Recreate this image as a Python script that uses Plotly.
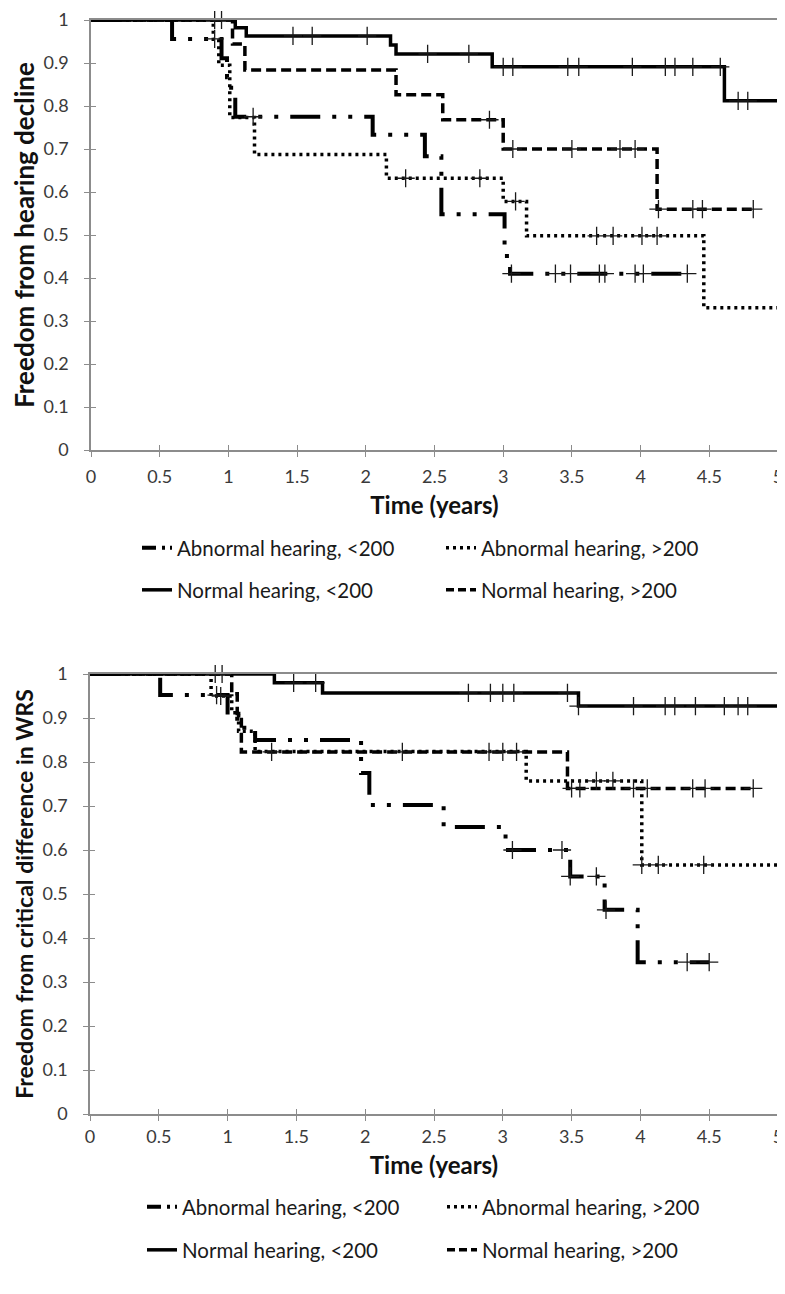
import numpy as np
import plotly.graph_objects as go

# The page body adds an 8px margin, so figure coordinates are offset by it.
OFF = 8
W, H = 785 - OFF, 1294 - 2 * OFF

# ---------------- Data: top chart (freedom from hearing decline) ----------------
top_ab_lt_t = [0, 0.59, 0.95, 0.99, 1.02, 1.05, 2.05, 2.43, 2.55, 3.01, 3.05, 4.34]
top_ab_lt_s = [1, 0.956, 0.911, 0.867, 0.822, 0.775, 0.733, 0.683, 0.548, 0.451, 0.41, 0.41]
top_ab_lt_c = [0.90, 1.18, 3.06, 3.38, 3.49, 3.70, 3.74, 3.96, 4.02, 4.34]

top_ab_gt_t = [0, 0.89, 0.93, 1.01, 1.19, 2.15, 3.0, 3.17, 4.46, 5.0]
top_ab_gt_s = [1, 0.955, 0.895, 0.773, 0.687, 0.632, 0.578, 0.498, 0.331, 0.331]
top_ab_gt_c = [2.29, 2.83, 3.09, 3.68, 3.80, 4.01, 4.12]

top_no_lt_t = [0, 1.05, 1.13, 2.18, 2.22, 2.92, 4.61, 5.0]
top_no_lt_s = [1, 0.982, 0.963, 0.942, 0.921, 0.891, 0.812, 0.812]
top_no_lt_c = [0.90, 0.95, 1.47, 1.61, 2.01, 2.45, 2.75, 3.0, 3.07, 3.47, 3.55,
               3.94, 4.18, 4.25, 4.38, 4.58, 4.71, 4.78]

top_no_gt_t = [0, 1.03, 1.12, 2.22, 2.56, 3.0, 4.12, 4.82]
top_no_gt_s = [1, 0.944, 0.884, 0.826, 0.768, 0.70, 0.56, 0.56]
top_no_gt_c = [2.90, 3.07, 3.50, 3.85, 3.96, 4.13, 4.38, 4.45, 4.82]

# ---------------- Data: bottom chart (freedom from critical difference in WRS) ----------------
bot_ab_lt_t = [0, 0.51, 1.0, 1.07, 1.2, 1.97, 2.03, 2.57, 3.02, 3.49, 3.74, 3.98, 4.5]
bot_ab_lt_s = [1, 0.952, 0.905, 0.878, 0.85, 0.775, 0.702, 0.652, 0.60, 0.54, 0.464, 0.345, 0.345]
bot_ab_lt_c = [0.92, 3.07, 3.43, 3.49, 3.68, 3.75, 4.34, 4.50]

bot_ab_gt_t = [0, 0.88, 1.03, 1.08, 1.2, 3.17, 4.01, 5.0]
bot_ab_gt_s = [1, 0.95, 0.912, 0.87, 0.824, 0.757, 0.566, 0.566]
bot_ab_gt_c = [0.95, 3.68, 3.80, 4.01, 4.13, 4.46]

bot_no_lt_t = [0, 1.34, 1.69, 3.55, 5.0]
bot_no_lt_s = [1, 0.98, 0.957, 0.927, 0.927]
bot_no_lt_c = [0.91, 0.96, 1.48, 1.64, 2.75, 2.91, 3.0, 3.08, 3.47, 3.55, 3.95,
               4.18, 4.25, 4.40, 4.61, 4.71, 4.78]

bot_no_gt_t = [0, 1.03, 1.07, 1.1, 3.47, 4.82]
bot_no_gt_s = [1, 0.955, 0.91, 0.823, 0.74, 0.74]
bot_no_gt_c = [1.32, 2.27, 2.90, 3.0, 3.10, 3.50, 3.56, 3.95, 4.05, 4.38, 4.47, 4.82]

names = ["Abnormal hearing, <200", "Abnormal hearing, >200",
         "Normal hearing, <200", "Normal hearing, >200"]
x_ticks = [0, 0.5, 1, 1.5, 2, 2.5, 3, 3.5, 4, 4.5, 5]
y_ticks = [0, 0.1, 0.2, 0.3, 0.4, 0.5, 0.6, 0.7, 0.8, 0.9, 1]

# line styles used in the plot area
plot_styles = [
    dict(dash="30px,12px,4px,12px,4px,12px", width=4),
    dict(dash="3px,4px", width=3.5),
    dict(dash="solid", width=3.5),
    dict(dash="10px,5px", width=3.5),
]
# shorter patterns so the (30px) legend swatches show the same look
legend_styles = [
    dict(dash="14px,6px,3px,5px,3px,6px", width=4),
    dict(dash="3px,4px", width=3.5),
    dict(dash="solid", width=3.5),
    dict(dash="8px,4px", width=3.5),
]


def fx(px):
    return (px - OFF) / W


def fy(py):
    return 1 - (py - OFF) / H


def step_at(t, s, c):
    t = np.asarray(t)
    s = np.asarray(s)
    idx = np.searchsorted(t, np.asarray(c), side="right") - 1
    return s[idx]


fig = go.Figure()

panels = [
    ("x", "y", ["legend", "legend2"],
     [(top_ab_lt_t, top_ab_lt_s, top_ab_lt_c), (top_ab_gt_t, top_ab_gt_s, top_ab_gt_c),
      (top_no_lt_t, top_no_lt_s, top_no_lt_c), (top_no_gt_t, top_no_gt_s, top_no_gt_c)]),
    ("x2", "y2", ["legend3", "legend4"],
     [(bot_ab_lt_t, bot_ab_lt_s, bot_ab_lt_c), (bot_ab_gt_t, bot_ab_gt_s, bot_ab_gt_c),
      (bot_no_lt_t, bot_no_lt_s, bot_no_lt_c), (bot_no_gt_t, bot_no_gt_s, bot_no_gt_c)]),
]

for xa, ya, legs, series in panels:
    for i, (t, s, c) in enumerate(series):
        fig.add_trace(go.Scatter(
            x=t, y=s, mode="lines", name=names[i], xaxis=xa, yaxis=ya, showlegend=False,
            line=dict(color="black", width=plot_styles[i]["width"], dash=plot_styles[i]["dash"],
                      shape="hv"),
            hoverinfo="skip"))
    for i, (t, s, c) in enumerate(series):
        fig.add_trace(go.Scatter(
            x=c, y=step_at(t, s, c), mode="markers", xaxis=xa, yaxis=ya, showlegend=False,
            marker=dict(symbol="cross-thin", size=13, color="#1a1a1a",
                        line=dict(color="#1a1a1a", width=1.3)),
            cliponaxis=False, hoverinfo="skip"))
    # legend entries
    for i in range(4):
        fig.add_trace(go.Scatter(
            x=[None], y=[None], mode="lines", name=names[i], xaxis=xa, yaxis=ya,
            line=dict(color="black", width=legend_styles[i]["width"], dash=legend_styles[i]["dash"]),
            legend=legs[0] if i < 2 else legs[1], showlegend=True, hoverinfo="skip"))

# empty traces so the overlay axes (inner half of the crossing tick marks) get drawn
for xa, ya in [("x3", "y3"), ("x4", "y4")]:
    fig.add_trace(go.Scatter(x=[None], y=[None], xaxis=xa, yaxis=ya, showlegend=False,
                             hoverinfo="skip"))

axis_col = "#8c8c8c"
tick_font = dict(family="Lato", size=18, color="#3a3a3a")


def xaxis(domain, anchor, label_gap, title_gap):
    return dict(domain=domain, anchor=anchor, range=[0, 5], tickvals=x_ticks,
                ticktext=[f"{v:g}" for v in x_ticks], ticklabeloverflow="allow",
                ticklabelstandoff=label_gap,
                showline=True, linecolor=axis_col, linewidth=1.6, mirror=True,
                ticks="outside", ticklen=5, tickcolor=axis_col, tickwidth=1.2,
                showgrid=False, zeroline=False, tickfont=tick_font,
                title=dict(text="Time (years)",
                           font=dict(family="Lato", size=24, color="#111111", weight="bold"),
                           standoff=title_gap),
                automargin=False, fixedrange=True)


def yaxis(domain, anchor, title, size):
    return dict(domain=domain, anchor=anchor, range=[0, 1], tickvals=y_ticks,
                ticktext=[f"{v:g}" for v in y_ticks], ticklabeloverflow="allow",
                showline=True, linecolor=axis_col, linewidth=1.6, mirror=True,
                ticks="outside", ticklen=5, tickcolor=axis_col, tickwidth=1.2,
                ticklabelstandoff=12,
                showgrid=False, zeroline=False, tickfont=tick_font,
                title=dict(text=title,
                           font=dict(family="Lato", size=size, color="#111111", weight="bold"),
                           standoff=2),
                automargin=False, fixedrange=True)


def inner_ticks_x(domain, anchor, overlay):
    return dict(domain=domain, anchor=anchor, overlaying=overlay, range=[0, 5], tickvals=x_ticks,
                showticklabels=False, showline=False, showgrid=False, zeroline=False,
                ticks="inside", ticklen=5, tickcolor=axis_col, tickwidth=1.2, fixedrange=True)


def inner_ticks_y(domain, anchor, overlay):
    return dict(domain=domain, anchor=anchor, overlaying=overlay, range=[0, 1], tickvals=y_ticks,
                showticklabels=False, showline=False, showgrid=False, zeroline=False,
                ticks="inside", ticklen=5, tickcolor=axis_col, tickwidth=1.2, fixedrange=True)


def legend(x_px, y_px, entry):
    return dict(orientation="h", x=x_px / W, xanchor="left", y=1 - y_px / H, yanchor="middle",
                entrywidth=entry, entrywidthmode="pixels", traceorder="normal",
                font=dict(family="Lato", size=20.5, color="#1a1a1a"),
                bgcolor="rgba(0,0,0,0)", borderwidth=0, itemclick=False, itemdoubleclick=False)


top_x = [fx(91), fx(778)]
top_y = [fy(450), fy(20)]
bot_x = [fx(90), fx(778)]
bot_y = [fy(1114), fy(674)]

fig.update_layout(
    width=W, height=H, margin=dict(l=0, r=0, t=0, b=0),
    paper_bgcolor="white", plot_bgcolor="white",
    xaxis=xaxis(top_x, "y", 5, 11),
    yaxis=yaxis(top_y, "x", "Freedom from hearing decline", 26),
    xaxis2=xaxis(bot_x, "y2", 1, 11),
    yaxis2=yaxis(bot_y, "x2", "Freedom from critical difference in WRS", 23),
    xaxis3=inner_ticks_x(top_x, "y3", "x"),
    yaxis3=inner_ticks_y(top_y, "x3", "y"),
    xaxis4=inner_ticks_x(bot_x, "y4", "x2"),
    yaxis4=inner_ticks_y(bot_y, "x4", "y2"),
    legend=legend(129, 540, 259),
    legend2=legend(129, 582, 259),
    legend3=legend(134, 1199, 255),
    legend4=legend(134, 1242, 255),
    showlegend=True,
)

fig.write_html("out.html")
